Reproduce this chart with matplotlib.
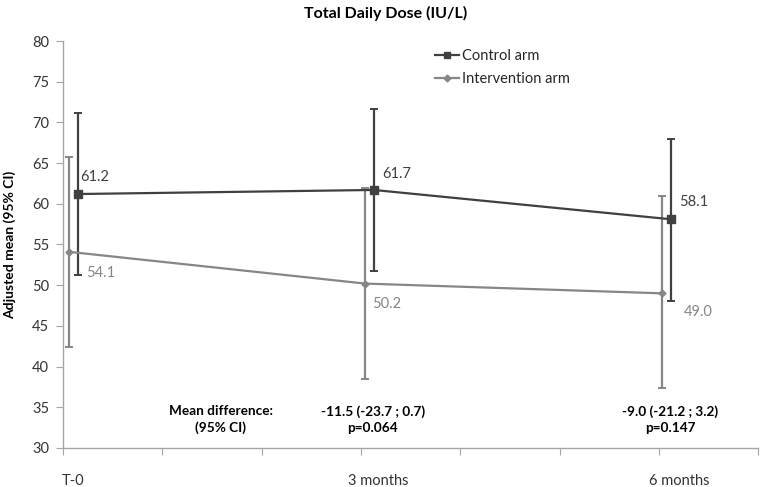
"""Total daily dose, adjusted means with 95% CI per arm."""
import matplotlib
matplotlib.use("Agg")
import matplotlib.pyplot as plt
from matplotlib.lines import Line2D

# values
timepoints = ["T-0", "3 months", "6 months"]
label_pos = [0.10, 3.17, 6.20]

ctrl_x = [0.15, 3.13, 6.12]
ctrl_mean = [61.2, 61.7, 58.1]
ctrl_lo = [51.2, 51.7, 48.1]
ctrl_hi = [71.1, 71.6, 68.0]

int_x = [0.06, 3.04, 6.03]
int_mean = [54.1, 50.2, 49.0]
int_lo = [42.4, 38.5, 37.4]
int_hi = [65.7, 61.9, 60.9]

diff_text = ["Mean difference:\n(95% CI)",
             "-11.5 (-23.7 ; 0.7)\np=0.064",
             "-9.0 (-21.2 ; 3.2)\np=0.147"]
diff_x = [1.59, 3.12, 6.11]

plt.rcParams['font.family'] = ['Lato', 'DejaVu Sans']

ctrl_col = '#404040'
int_col = '#868686'
axis_col = '#a6a6a6'

fig = plt.figure(figsize=(7.66, 4.87), dpi=100)
ax = fig.add_axes([0.0822, 0.0801, 0.9078, 0.8357])

# intervention arm first so the control arm sits on top
ax.errorbar(int_x, int_mean,
            yerr=[[m - l for m, l in zip(int_mean, int_lo)],
                  [h - m for m, h in zip(int_mean, int_hi)]],
            color=int_col, lw=1.6, marker='D', ms=3.5, capsize=3,
            elinewidth=1.6, capthick=1.4)
ax.errorbar(ctrl_x, ctrl_mean,
            yerr=[[m - l for m, l in zip(ctrl_mean, ctrl_lo)],
                  [h - m for m, h in zip(ctrl_mean, ctrl_hi)]],
            color=ctrl_col, lw=1.6, marker='s', ms=5.5, capsize=3,
            elinewidth=1.6, capthick=1.4)

# data labels, offsets in pixels (x right, y up)
ctrl_off = [(17, 17), (23, 16), (23, 17)]
int_off = [(32, -21), (22, -20), (36, -19)]
for x, y, (dx, dy) in zip(ctrl_x, ctrl_mean, ctrl_off):
    ax.annotate(f"{y:.1f}", (x, y), xytext=(dx * 0.72, dy * 0.72),
                textcoords='offset points', ha='center', va='center',
                fontsize=10.5, color=ctrl_col)
for x, y, (dx, dy) in zip(int_x, int_mean, int_off):
    ax.annotate(f"{y:.1f}", (x, y), xytext=(dx * 0.72, dy * 0.72),
                textcoords='offset points', ha='center', va='center',
                fontsize=10.5, color=int_col)

for x, t in zip(diff_x, diff_text):
    ax.text(x, 33.45, t, ha='center', va='center', multialignment='center',
            fontsize=9.8, fontweight='bold', color='black', linespacing=1.4)

ax.set_xlim(0, 7)
ax.set_ylim(30, 80)
ax.set_yticks(range(30, 81, 5))
ax.set_xticks(range(0, 8))
ax.set_xticklabels([])
ax.set_xticks(label_pos, minor=True)
ax.set_xticklabels(timepoints, minor=True)

for s in ['top', 'right']:
    ax.spines[s].set_visible(False)
for s in ['left', 'bottom']:
    ax.spines[s].set_color(axis_col)
    ax.spines[s].set_linewidth(1.0)

ax.tick_params(axis='both', which='major', colors=axis_col, length=5,
               labelcolor='#333333', labelsize=10.5)
ax.tick_params(axis='y', pad=5)
ax.tick_params(axis='x', which='minor', length=0, pad=19,
               labelcolor='#333333', labelsize=10.5)

# legend: plain line + marker, no error bars
handles = [Line2D([], [], color=ctrl_col, lw=1.6, marker='s', ms=5),
           Line2D([], [], color=int_col, lw=1.6, marker='D', ms=3.5)]
leg = ax.legend(handles, ['Control arm', 'Intervention arm'], loc='upper left',
                bbox_to_anchor=(0.527, 0.995), frameon=False, fontsize=10.5,
                handlelength=1.6, handletextpad=0.2, labelspacing=0.6,
                borderaxespad=0)
for txt in leg.get_texts():
    txt.set_color('#262626')

fig.text(0.503, 0.972, "Total Daily Dose (IU/L)", ha='center', va='center',
         fontsize=11.5, fontweight='bold', color='black')
fig.text(0.013, 0.498, "Adjusted mean (95% CI)", ha='center', va='center',
         rotation=90, fontsize=10, fontweight='bold', color='black')

fig.savefig("out.png", dpi=100)
